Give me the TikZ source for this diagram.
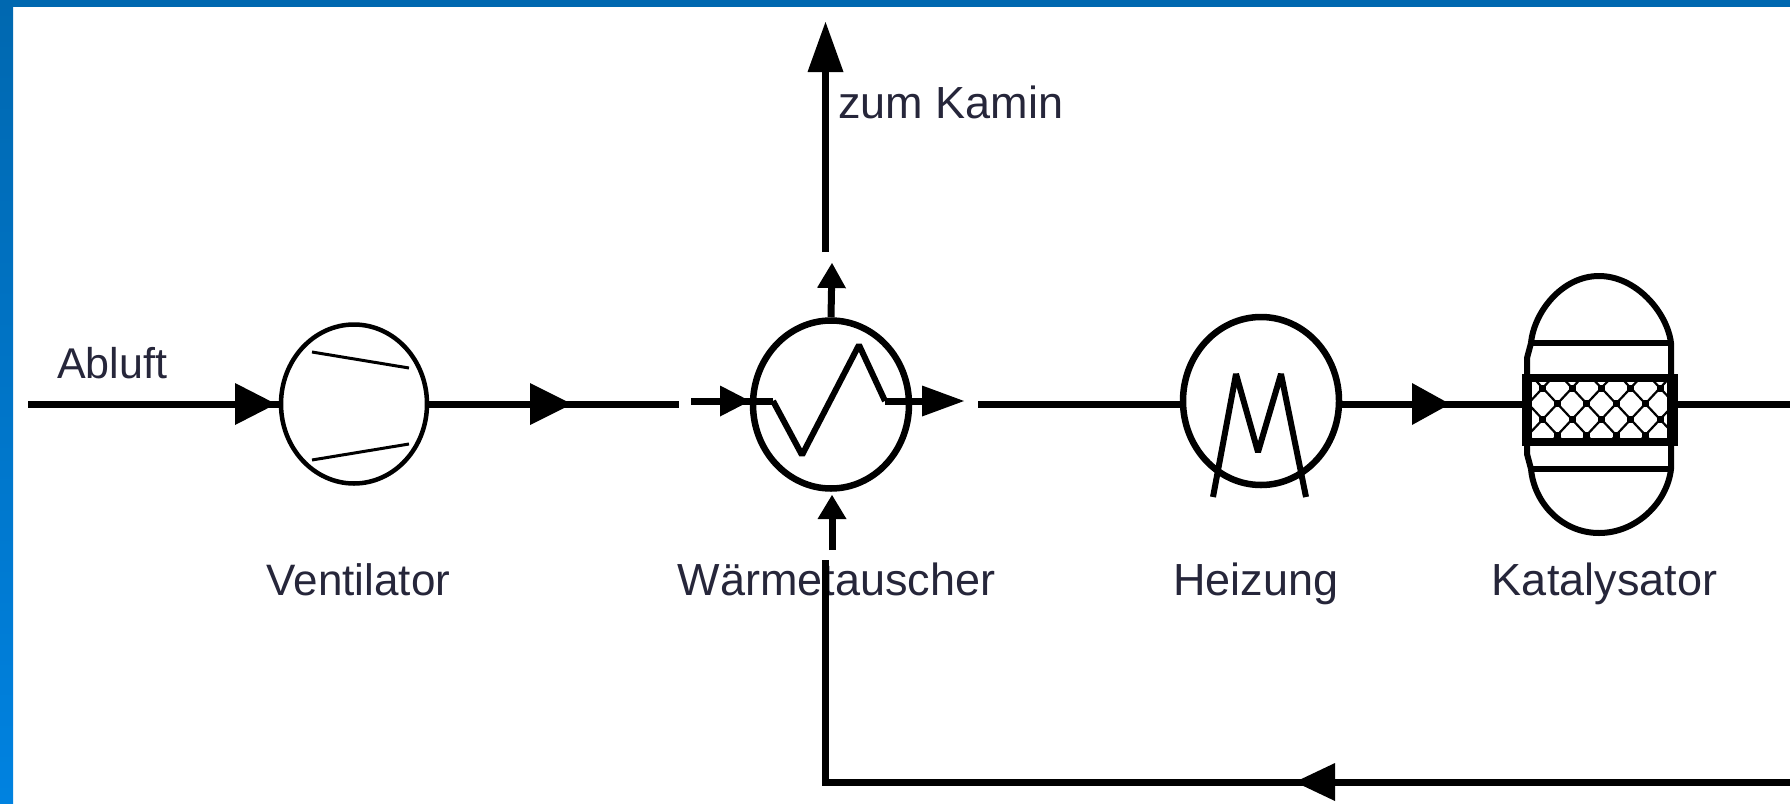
\documentclass[tikz,border=0pt]{standalone}
\usepackage{fontspec}
\setmainfont{Liberation Sans}
\usetikzlibrary{shapes.geometric,arrows.meta}
\definecolor{frameTop}{HTML}{0068B0}
\definecolor{frameBot}{HTML}{0082E0}
\definecolor{labelInk}{HTML}{26263A}
\tikzset{
  pipe/.style={line width=7pt,draw=black},
  flow/.style 2 args={pipe,-{Triangle[length=#1,width=#2,line width=0pt]}},
  unit/.style={ellipse,draw=black,line width=6.5pt,inner sep=0pt,minimum width=156pt,minimum height=168pt},
  fan/.style={ellipse,draw=black,line width=4.5pt,inner sep=0pt,minimum width=146pt,minimum height=159pt},
  coil/.style={draw=black,line width=6pt,line join=bevel},
  blade/.style={draw=black,line width=3pt},
  shell/.style={draw=black,line width=6pt},
  bar/.style={draw=black,line width=6.5pt},
  mesh/.style={draw=black,line width=2.2pt},
  tag/.style={text=labelInk,inner sep=0pt,font=\fontsize{45}{45}\selectfont,anchor=base}
}
\begin{document}
\begin{tikzpicture}[x=1pt,y=-1pt]
\useasboundingbox (0,0) rectangle (1790,803);
\fill[white] (0,0) rectangle (1790,803);
\shade[top color=frameTop,bottom color=frameBot] (0,0) rectangle (13,803);
\fill[frameTop] (0,0) rectangle (1790,7);

% labels
\node[tag,font=\fontsize{43}{43}\selectfont] (lAb) at (112,378) {Abluft};
\node[tag,font=\fontsize{44}{44}\selectfont] (lVe) at (358.5,595) {Ventilator};
\node[tag] (lWt) at (836.5,595) {Wärmetauscher};
\node[tag] (lHz) at (1256,595) {Heizung};
\node[tag] (lKa) at (1604.5,595) {Katalysator};
\node[tag] (lKm) at (951,118) {zum Kamin};

% equipment
\node[fan] (ven) at (354,404) {};
\node[unit] (wt) at (831,404.5) {};
\node[unit] (hz) at (1261,401) {};

% fan blades
\coordinate (b1) at (312,352); \coordinate (b2) at (409,368);
\coordinate (b3) at (312,460); \coordinate (b4) at (409,444);
\draw[blade] (b1) -- (b2);
\draw[blade] (b3) -- (b4);

% exchanger coil
\coordinate (c0) at (773,401); \coordinate (c1) at (802,455);
\coordinate (c2) at (859,345); \coordinate (c3) at (885,401);
\draw[coil] (c0) -- (c1) -- (c2) -- (c3);

% heater coil
\coordinate (m0) at (1213,497); \coordinate (m1) at (1236,374);
\coordinate (m2) at (1258,452); \coordinate (m3) at (1281,374);
\coordinate (m4) at (1306,497);
\draw[coil] (m0) -- (m1) -- (m2) -- (m3) -- (m4);

% catalyst vessel
\coordinate (vTL) at (1531,343); \coordinate (vTR) at (1671,343);
\coordinate (vBL) at (1531,469); \coordinate (vBR) at (1671,469);
\draw[shell] (vBL) .. controls (1534,503) and (1562,533) .. (1599,533) .. controls (1636,533) and (1667,503) .. (vBR) -- (vTR) .. controls (1667,312) and (1636,276) .. (1599,276) .. controls (1562,276) and (1534,312) .. (vTL);
\draw[shell] (vTL) -- (1527,358) -- (1527,454) -- (vBL);
\draw[bar] (vTL) -- (vTR);
\draw[bar] (vBL) -- (vBR);
\node[fill=black,minimum width=156pt,minimum height=72pt,inner sep=0pt,outer sep=0pt] (bed) at (1600,410) {};
\fill[white] (1532,382) rectangle (1667,438);
\begin{scope}
\clip (1532,382) rectangle (1667,438);
\foreach \k in {-5,...,9}{
  \draw[mesh] (1542.7+\k*29.33,388) -- ++(58.67,62.8);
  \draw[mesh] (1542.7+\k*29.33,388) -- ++(-58.67,62.8);
  \draw[mesh] (1542.7+\k*29.33,388) -- ++(-14.67,-15.7);
  \draw[mesh] (1542.7+\k*29.33,388) -- ++(14.67,-15.7);
}
\foreach \k in {0,...,4}{
  \fill (1542.7+\k*29.33-3.5,388-3.5) rectangle ++(7,7);
  \fill (1542.7+\k*29.33-3.5,419.4-3.5) rectangle ++(7,7);
}
\foreach \k in {0,...,3}{
  \fill (1557.4+\k*29.33-3.5,403.7-3.5) rectangle ++(7,7);
  \fill (1557.4+\k*29.33-3.5,435.1-3.5) rectangle ++(7,7);
}
\end{scope}

% named ends and arrow tips
\coordinate (in) at (28,404);
\coordinate (a1) at (276,404);
\coordinate (a2) at (572,404);
\coordinate (venC) at (679,404);
\coordinate (wtI) at (691,401);
\coordinate (a3) at (750,401);
\coordinate (a4) at (964,401);
\coordinate (hzI) at (978,404);
\coordinate (hzE) at (1338,404);
\coordinate (a5) at (1450,404);
\coordinate (katO) at (1790,404);
\coordinate (kamS) at (825.5,252);
\coordinate (kamE) at (825.5,22);
\coordinate (wtT) at (832,263);
\coordinate (wtBb) at (832,550);
\coordinate (wtBt) at (832,495);
\coordinate (retS) at (825,560);
\coordinate (retC) at (825,782);
\coordinate (retE) at (1790,782);
\coordinate (a6) at (1295,782);

% connectors
\draw[pipe] (in) -- (ven.west);
\draw[flow={41pt}{42pt}] (in) -- (a1);
\draw[pipe] (ven.east) -- (venC);
\draw[flow={42pt}{42pt}] (ven.east) -- (a2);
\draw[pipe] (wtI) -- (c0);
\draw[flow={30pt}{31pt}] (wtI) -- (a3);
\draw[flow={42pt}{31pt}] (c3) -- (a4);
\draw[pipe] (hzI) -- (hz.west |- hzI);
\draw[pipe] (hzE) -- (a5 -| bed.west);
\draw[flow={38pt}{42pt}] (hzE) -- (a5);
\draw[pipe] (katO -| bed.east) -- (katO);
\draw[flow={25pt}{29pt}] (wt.north) -- (wtT);
\draw[flow={24pt}{29pt}] (wtBb) -- (wtBt);
\draw[flow={50pt}{36pt}] (kamS) -- (kamE);
\draw[pipe,line join=miter] (retE) -- (retC) -- (retS);
\draw[flow={40pt}{38pt}] (retE) -- (a6);
\end{tikzpicture}
\end{document}
